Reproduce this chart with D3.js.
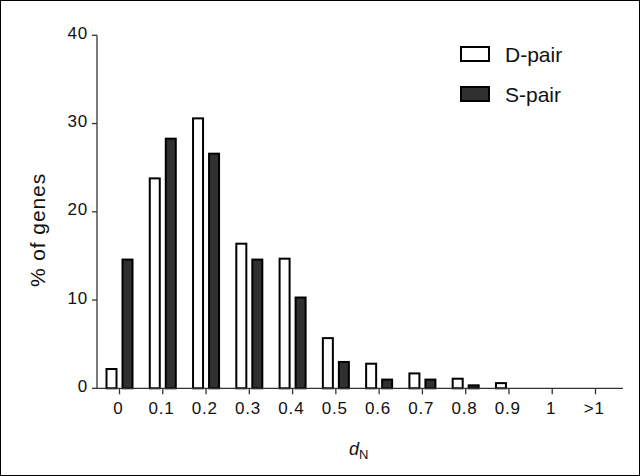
<!DOCTYPE html>
<html>
<head>
<meta charset="utf-8">
<script src="https://cdn.jsdelivr.net/npm/d3@7"></script>
<style>
  html, body { margin: 0; padding: 0; background: #fff; }
  svg { display: block; font-family: "Liberation Sans", Arial, Helvetica, sans-serif; }
</style>
</head>
<body>
<svg id="chart" width="640" height="476"></svg>
<script>
const categories = ["0", "0.1", "0.2", "0.3", "0.4", "0.5", "0.6", "0.7", "0.8", "0.9", "1", ">1"];
const dPair = [2.3, 23.9, 30.7, 16.5, 14.8, 5.8, 2.9, 1.8, 1.2, 0.7, 0, 0];
const sPair = [14.7, 28.4, 26.7, 14.7, 10.4, 3.1, 1.1, 1.1, 0.45, 0, 0, 0];
const yTicks = [0, 10, 20, 30, 40];
const seriesNames = ["D-pair", "S-pair"];
const seriesFill = ["#ffffff", "#2f302f"];

const svg = d3.select("#chart");

// frame
svg.append("rect").attr("x", 0.5).attr("y", 0.5).attr("width", 639).attr("height", 475)
  .attr("fill", "none").attr("stroke", "#000").attr("stroke-width", 1);

const x = d3.scalePoint().domain(categories).range([119.5, 595.5]);
const y = d3.scaleLinear().domain([0, 40]).range([388.3, 35.3]);
const axisLeftX = 97;
const axisRightX = 623;

// bars
const g = svg.append("g");
const series = [dPair, sPair];
series.forEach((vals, si) => {
  g.selectAll(null).data(categories.map((c, i) => ({ c, v: vals[i] })).filter(d => d.v > 0))
    .enter().append("rect")
    .attr("x", d => x(d.c) + (si === 0 ? -13 : 3))
    .attr("width", 10)
    .attr("y", d => y(d.v) + 1)
    .attr("height", d => Math.max(0, y(0) - y(d.v) - 1))
    .attr("fill", seriesFill[si])
    .attr("stroke", "#000")
    .attr("stroke-width", 2);
});

// y axis
const yAxis = svg.append("g");
yAxis.append("line").attr("x1", axisLeftX).attr("x2", axisLeftX)
  .attr("y1", y(40)).attr("y2", y(0)).attr("stroke", "#333").attr("stroke-width", 1.3);
yTicks.forEach(t => {
  yAxis.append("line").attr("x1", axisLeftX - 5).attr("x2", axisLeftX)
    .attr("y1", y(t)).attr("y2", y(t)).attr("stroke", "#333").attr("stroke-width", 1.3);
  yAxis.append("text").attr("x", 88).attr("y", y(t) + 3.5)
    .attr("text-anchor", "end").attr("font-size", 17).attr("letter-spacing", 0.8)
    .attr("fill", "#111").text(t);
});

// x axis
const xAxis = svg.append("g");
xAxis.append("line").attr("x1", axisLeftX).attr("x2", axisRightX)
  .attr("y1", y(0)).attr("y2", y(0)).attr("stroke", "#333").attr("stroke-width", 1.3);
categories.forEach(c => {
  xAxis.append("line").attr("x1", x(c)).attr("x2", x(c))
    .attr("y1", y(0)).attr("y2", y(0) + 6).attr("stroke", "#333").attr("stroke-width", 1.3);
  xAxis.append("text").attr("x", x(c) - 1.2).attr("y", 413.5)
    .attr("text-anchor", "middle").attr("font-size", 17).attr("letter-spacing", 0.8)
    .attr("fill", "#111").text(c);
});

// axis titles
svg.append("text").attr("transform", "translate(45,230) rotate(-90)")
  .attr("text-anchor", "middle").attr("font-size", 21).attr("letter-spacing", 0.9)
  .attr("fill", "#111").text("% of genes");

const xt = svg.append("text").attr("x", 349).attr("y", 455).attr("font-size", 18).attr("fill", "#111");
xt.append("tspan").attr("font-style", "italic").text("d");
xt.append("tspan").attr("font-size", 13).attr("dy", 4).text("N");

// legend
const legend = svg.append("g");
seriesNames.forEach((n, i) => {
  const ly = 47 + i * 40;
  legend.append("rect").attr("x", 461).attr("y", ly).attr("width", 28).attr("height", 14)
    .attr("fill", seriesFill[i]).attr("stroke", "#000").attr("stroke-width", 2);
  legend.append("text").attr("x", 505).attr("y", ly + 15).attr("font-size", 21)
    .attr("fill", "#111").text(n);
});
</script>
</body>
</html>
